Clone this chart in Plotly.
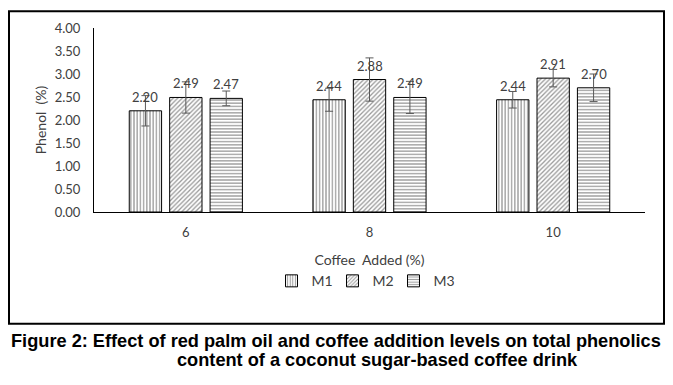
import plotly.graph_objects as go

categories = ["6", "8", "10"]
series_names = ["M1", "M2", "M3"]
m1 = [2.20, 2.44, 2.44]
m2 = [2.49, 2.88, 2.91]
m3 = [2.47, 2.49, 2.70]
m1_err = [0.33, 0.25, 0.18]
m2_err = [0.34, 0.47, 0.19]
m3_err = [0.16, 0.35, 0.30]
y_ticks = [0, 0.5, 1.0, 1.5, 2.0, 2.5, 3.0, 3.5, 4.0]

values = [m1, m2, m3]
errors = [m1_err, m2_err, m3_err]
shapes = ["|", "/", "-"]
FONT = "Lato, Arial, sans-serif"

# page body has an 8px margin: work in reference pixels minus 8
OFF = 8
W, H = 673 - OFF, 385 - OFF
L, T = 94 - OFF, 26 - OFF
PR, PB = 645 - OFF, 212 - OFF
R, B = W - PR, H - PB
pw, ph = PR - L, PB - T

def px2x(px):
    return (px - OFF - L) / pw

def py2y(py):
    return (PB - (py - OFF)) / ph

BARGAP = 0.34
slot_px = pw / len(categories) * (1 - BARGAP) / len(series_names)

fig = go.Figure()
annotations = []
for i, (name, vals, errs, shp) in enumerate(zip(series_names, values, errors, shapes)):
    fig.add_trace(go.Bar(
        x=categories, y=vals, name=name,
        marker=dict(color="white",
                    line=dict(color="black", width=1),
                    pattern=dict(shape=shp, fgcolor="#333333", bgcolor="white",
                                 size=3.2, solidity=0.4)),
        error_y=dict(type="data", array=errs, visible=True,
                     color="#595959", thickness=1, width=4),
    ))
    for j, v in enumerate(vals):
        annotations.append(dict(
            x=j, y=v, xref="x", yref="y", text=f"{v:.2f}", showarrow=False,
            xshift=(i - 1) * slot_px, yshift=14, yanchor="middle",
            font=dict(family=FONT, size=13, color="#404040")))

cap_font = dict(family="Liberation Sans, Arial, sans-serif", size=18.2, color="black")
annotations += [
    dict(text="<b>Figure 2: Effect of red palm oil and coffee addition levels on total phenolics</b>",
         xref="paper", yref="paper", x=px2x(9), y=py2y(342),
         xanchor="left", yanchor="middle", showarrow=False, font=cap_font),
    dict(text="<b>content of a coconut sugar-based coffee drink</b>",
         xref="paper", yref="paper", x=px2x(175), y=py2y(362),
         xanchor="left", yanchor="middle", showarrow=False, font=cap_font),
]

fig.update_layout(
    width=W, height=H,
    margin=dict(l=L, r=R, t=T, b=B),
    paper_bgcolor="white", plot_bgcolor="white",
    barmode="group", bargap=BARGAP, bargroupgap=0.2,
    font=dict(family=FONT, size=13, color="#595959"),
    showlegend=True,
    legend=dict(orientation="h", x=px2x(363), xanchor="center",
                y=py2y(282), yanchor="middle",
                font=dict(family=FONT, size=14, color="#404040"),
                itemwidth=30, entrywidth=16, entrywidthmode="pixels",
                traceorder="normal"),
    xaxis=dict(type="category", categoryorder="array", categoryarray=categories,
               range=[-0.5, len(categories) - 0.5],
               showline=True, linecolor="black", linewidth=1,
               ticks="", showgrid=False, ticklabelstandoff=8,
               tickfont=dict(family=FONT, size=13, color="#404040"),
               title=dict(text="Coffee  Added (%)", standoff=16,
                          font=dict(family=FONT, size=14, color="#404040"))),
    yaxis=dict(range=[0, 4.0], tickvals=y_ticks, tickformat=".2f",
               showline=True, linecolor="black", linewidth=1,
               ticks="", showgrid=False, zeroline=False,
               ticklabelstandoff=10,
               tickfont=dict(family=FONT, size=13, color="#404040"),
               title=dict(text="Phenol  (%)", standoff=4,
                          font=dict(family=FONT, size=14, color="#404040"))),
    shapes=[dict(type="rect", xref="paper", yref="paper",
                 x0=px2x(9), x1=px2x(664), y0=py2y(325), y1=py2y(9),
                 line=dict(color="black", width=2), fillcolor="rgba(0,0,0,0)",
                 layer="below")],
    annotations=annotations,
)

fig.write_html("out.html")
